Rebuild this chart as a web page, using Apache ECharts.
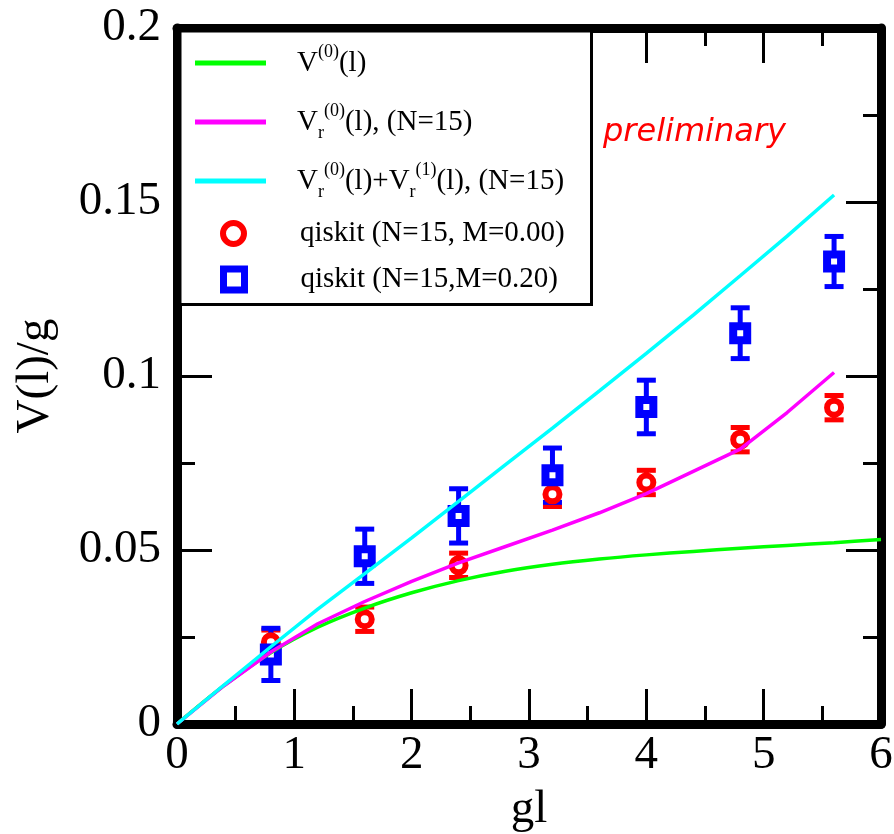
<!DOCTYPE html>
<html>
<head>
<meta charset="utf-8">
<title>V(l)/g</title>
<script src="https://cdn.jsdelivr.net/npm/echarts@6/dist/echarts.min.js"></script>
<style>
  html, body { margin: 0; padding: 0; background: #ffffff; }
  #chart { width: 894px; height: 834px; }
</style>
</head>
<body>
<div id="chart"></div>
<script>
// curves, sampled every 0.4 in gl
const curveX = [0, 0.4, 0.8, 1.2, 1.6, 2.0, 2.4, 2.8, 3.2, 3.6, 4.0, 4.4, 4.8, 5.2, 5.6]
const greenX = [0, 0.4, 0.8, 1.2, 1.6, 2.0, 2.4, 2.8, 3.2, 3.6, 4.0, 4.4, 4.8, 5.2, 5.6, 6.0]
const greenY = [0, 0.0110, 0.0205, 0.0278, 0.0333, 0.0377, 0.0412, 0.0439, 0.0459, 0.0474, 0.0486, 0.0496, 0.0505, 0.0513, 0.0521, 0.0530]
const pinkY = [0, 0.0110, 0.0207, 0.0288, 0.0352, 0.0410, 0.0463, 0.0510, 0.0557, 0.0607, 0.0662, 0.0726, 0.0790, 0.0895, 0.1010]
const cyanY = [0, 0.0112, 0.0222, 0.0330, 0.0432, 0.0535, 0.0640, 0.0745, 0.0850, 0.0957, 0.1065, 0.1175, 0.1288, 0.1402, 0.1520]

// qiskit points
const qX = [0.8, 1.6, 2.4, 3.2, 4.0, 4.8, 5.6]
const redY = [0.0235, 0.0301, 0.0456, 0.0660, 0.0694, 0.0817, 0.0909]
const redErr = [0.0035, 0.0035, 0.0035, 0.0035, 0.0035, 0.0035, 0.0035]
const blueY = [0.0200, 0.0482, 0.0598, 0.0715, 0.0911, 0.1123, 0.1329]
const blueErr = [0.0075, 0.0078, 0.0078, 0.0078, 0.0077, 0.0073, 0.0072]

const xTicks = [0, 1, 2, 3, 4, 5, 6]
const yTicks = [0, 0.05, 0.1, 0.15, 0.2]

const serif = 'Liberation Serif'
const pairs = (xs, ys) => ys.map((y, i) => [xs[i], y])
const triples = (xs, ys, es) => ys.map((y, i) => [xs[i], y, es[i]])

function errorBars (color) {
  return function (params, api) {
    const x = api.value(0)
    const y = api.value(1)
    const e = api.value(2)
    const hi = api.coord([x, y + e])
    const lo = api.coord([x, y - e])
    const half = 9.5
    const style = { stroke: color, lineWidth: 5 }
    return {
      type: 'group',
      children: [
        { type: 'line', shape: { x1: hi[0], y1: hi[1], x2: lo[0], y2: lo[1] }, style },
        { type: 'line', shape: { x1: hi[0] - half, y1: hi[1], x2: hi[0] + half, y2: hi[1] }, style },
        { type: 'line', shape: { x1: lo[0] - half, y1: lo[1], x2: lo[0] + half, y2: lo[1] }, style }
      ]
    }
  }
}

// legend labels with sub/superscripts
const labels = {
  V0: '{a|V}{sup|(0)}{a|(l)}',
  Vr0: '{a|V}{sub|r}{sup|(0)}{a|(l), (N=15)}',
  Vr01: '{a|V}{sub|r}{sup|(0)}{a|(l)+V}{sub|r}{sup|(1)}{a|(l), (N=15)}',
  q0: '{a|qiskit (N=15, M=0.00)}',
  q2: '{a|qiskit (N=15,M=0.20)}'
}
const rich = {
  a: { fontFamily: serif, fontSize: 29, lineHeight: 40, color: '#000' },
  sup: { fontFamily: serif, fontSize: 18, color: '#000', verticalAlign: 'top' },
  sub: { fontFamily: serif, fontSize: 18, color: '#000', verticalAlign: 'bottom' }
}

// one legend per row so each row sits where it does in the figure
const legendRows = [
  { name: 'V0', top: 43, left: 195, w: 71, h: 5, pad: 26, icon: 'rect' },
  { name: 'Vr0', top: 102, left: 195, w: 71, h: 5, pad: 26, icon: 'rect' },
  { name: 'Vr01', top: 161, left: 195, w: 71, h: 5, pad: 26, icon: 'rect' },
  { name: 'q0', top: 219, left: 220, w: 21, h: 21, pad: 51, icon: 'circle', itemStyle: { color: '#fff', borderColor: '#ff0000', borderWidth: 6 } },
  { name: 'q2', top: 265, left: 220, w: 21, h: 21, pad: 51, icon: 'rect', itemStyle: { color: '#fff', borderColor: '#0000ff', borderWidth: 7 } }
]

const axisCommon = {
  type: 'value',
  axisLine: { onZero: false, lineStyle: { color: '#000', width: 9 } },
  axisTick: { inside: true, length: 35, lineStyle: { color: '#000', width: 3 } },
  minorTick: { show: true, splitNumber: 2, length: 18, lineStyle: { color: '#000', width: 3 } },
  splitLine: { show: false }
}

const chart = echarts.init(document.getElementById('chart'))
chart.setOption({
  animation: false,
  backgroundColor: '#ffffff',
  title: {
    text: 'preliminary',
    left: 603,
    top: 117,
    padding: 0,
    textStyle: { color: '#ff0000', fontStyle: 'italic', fontWeight: 'normal', fontSize: 32, fontFamily: 'DejaVu Sans' }
  },
  grid: { left: 177, right: 13, top: 28, bottom: 110, outerBoundsMode: 'none' },
  xAxis: [
    Object.assign({}, axisCommon, {
      min: xTicks[0],
      max: xTicks[xTicks.length - 1],
      interval: 1,
      position: 'bottom',
      name: 'gl',
      nameLocation: 'middle',
      nameGap: 62,
      nameTextStyle: { fontFamily: serif, fontSize: 47, color: '#000' },
      axisLabel: { fontFamily: serif, fontSize: 47, color: '#000', margin: 8 }
    }),
    Object.assign({}, axisCommon, {
      min: xTicks[0],
      max: xTicks[xTicks.length - 1],
      interval: 1,
      position: 'top',
      axisLabel: { show: false }
    })
  ],
  yAxis: [
    Object.assign({}, axisCommon, {
      min: yTicks[0],
      max: yTicks[yTicks.length - 1],
      interval: 0.05,
      position: 'left',
      name: 'V(l)/g',
      nameLocation: 'middle',
      nameGap: 118,
      nameTextStyle: { fontFamily: serif, fontSize: 47, color: '#000' },
      axisLabel: { fontFamily: serif, fontSize: 47, color: '#000', margin: 16 }
    }),
    Object.assign({}, axisCommon, {
      min: yTicks[0],
      max: yTicks[yTicks.length - 1],
      interval: 0.05,
      position: 'right',
      axisLabel: { show: false }
    })
  ],
  legend: legendRows.map((r) => ({
    data: [{ name: r.name, icon: r.icon, itemStyle: r.itemStyle }],
    left: r.left,
    top: r.top,
    padding: 0,
    itemWidth: r.w,
    itemHeight: r.h,
    selectedMode: false,
    formatter: (name) => labels[name],
    textStyle: { padding: [0, 0, 0, r.pad], rich }
  })),
  graphic: [
    {
      type: 'rect',
      z: 3,
      shape: { x: 180, y: 31, width: 411.5, height: 273.5 },
      style: { fill: '#fff', stroke: '#000', lineWidth: 3 }
    }
  ],
  series: [
    {
      name: 'V0',
      type: 'line',
      data: pairs(greenX, greenY),
      showSymbol: false,
      symbol: 'none',
      smooth: 0.3,
      color: '#00ff00',
      lineStyle: { color: '#00ff00', width: 3.5 }
    },
    {
      name: 'Vr0',
      type: 'line',
      data: pairs(curveX, pinkY),
      showSymbol: false,
      symbol: 'none',
      color: '#ff00ff',
      lineStyle: { color: '#ff00ff', width: 3.5 }
    },
    {
      name: 'Vr01',
      type: 'line',
      data: pairs(curveX, cyanY),
      showSymbol: false,
      symbol: 'none',
      color: '#00ffff',
      lineStyle: { color: '#00ffff', width: 3.5 }
    },
    {
      name: 'q0',
      type: 'scatter',
      data: pairs(qX, redY),
      symbol: 'circle',
      symbolSize: 14,
      itemStyle: { color: '#fff', borderColor: '#ff0000', borderWidth: 6, opacity: 1 }
    },
    {
      name: 'q0err',
      type: 'custom',
      data: triples(qX, redY, redErr),
      encode: { x: 0, y: 1 },
      renderItem: errorBars('#ff0000')
    },
    {
      name: 'q2',
      type: 'scatter',
      data: pairs(qX, blueY),
      symbol: 'rect',
      symbolSize: 14,
      itemStyle: { color: '#fff', borderColor: '#0000ff', borderWidth: 8, opacity: 1 }
    },
    {
      name: 'q2err',
      type: 'custom',
      data: triples(qX, blueY, blueErr),
      encode: { x: 0, y: 1 },
      renderItem: errorBars('#0000ff')
    }
  ]
})
</script>
</body>
</html>
